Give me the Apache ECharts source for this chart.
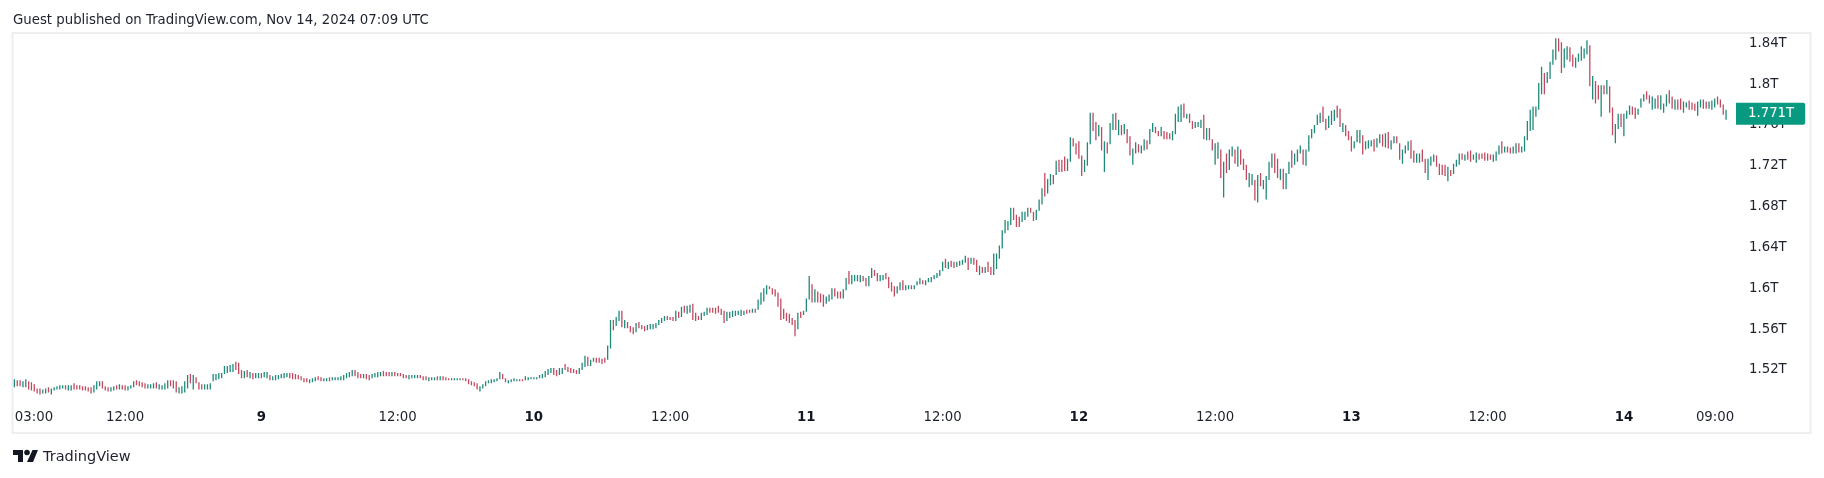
<!DOCTYPE html>
<html>
<head>
    <meta charset="utf-8">
    <title>TradingView chart</title>
    <style>
        html, body { margin: 0; padding: 0; background: #fff; }
        #main { width: 1824px; height: 478px; }
    </style>
</head>
<body>
    <div id="main"></div>
    <script src="https://cdn.jsdelivr.net/npm/echarts@6/dist/echarts.min.js"></script>
    <script type="text/javascript">

        // market cap in billions, 15 min bars, one row = 10 bars
        const highs = [
            1511,1510,1510,1509,1511,1509,1508,1506,1502,1502,
            1501,1502,1503,1502,1503,1504,1505,1505,1505,1505,
            1505,1507,1505,1505,1504,1504,1503,1503,1505,1509,
            1509,1509,1504,1503,1503,1504,1505,1506,1505,1505,
            1504,1505,1509,1510,1509,1508,1507,1506,1506,1507,
            1508,1506,1505,1507,1510,1510,1510,1509,1503,1504,
            1509,1515,1516,1515,1513,1508,1506,1506,1506,1507,
            1516,1516,1517,1517,1524,1524,1525,1526,1528,1527,
            1520,1519,1520,1518,1517,1517,1517,1517,1518,1518,
            1515,1514,1515,1515,1516,1517,1517,1517,1517,1516,
            1515,1514,1512,1512,1511,1512,1513,1514,1513,1512,
            1512,1513,1513,1513,1513,1514,1515,1517,1518,1520,
            1520,1518,1516,1516,1516,1515,1516,1517,1518,1518,
            1519,1518,1518,1518,1518,1517,1517,1516,1515,1515,
            1515,1515,1515,1515,1514,1514,1513,1513,1513,1514,
            1514,1514,1513,1512,1512,1512,1512,1512,1512,1512,
            1511,1509,1508,1507,1504,1506,1509,1510,1511,1511,
            1512,1518,1516,1512,1510,1511,1512,1511,1511,1511,
            1514,1513,1513,1513,1513,1515,1516,1519,1521,1522,
            1522,1520,1522,1522,1526,1523,1522,1521,1520,1522,
            1527,1534,1533,1530,1532,1532,1532,1531,1532,1544,
            1569,1569,1572,1578,1578,1569,1567,1563,1562,1566,
            1567,1564,1563,1564,1565,1565,1566,1569,1571,1573,
            1573,1572,1572,1578,1577,1582,1583,1583,1584,1585,
            1576,1573,1576,1577,1581,1581,1581,1581,1583,1580,
            1578,1577,1577,1578,1578,1578,1579,1578,1579,1579,
            1580,1580,1589,1596,1600,1603,1602,1600,1599,1596,
            1590,1580,1576,1575,1571,1569,1576,1577,1578,1590,
            1612,1604,1599,1597,1595,1594,1592,1594,1600,1600,
            1597,1597,1599,1610,1617,1613,1613,1613,1613,1612,
            1610,1612,1620,1618,1615,1613,1613,1615,1611,1606,
            1602,1602,1606,1608,1603,1603,1603,1603,1607,1610,
            1608,1608,1610,1611,1613,1615,1618,1626,1629,1626,
            1627,1626,1626,1627,1628,1632,1630,1630,1630,1628,
            1622,1621,1621,1626,1621,1634,1634,1642,1657,1667,
            1666,1679,1679,1672,1670,1675,1675,1679,1679,1675,
            1677,1687,1698,1713,1707,1712,1711,1725,1726,1726,
            1729,1727,1748,1747,1742,1744,1730,1726,1743,1772,
            1772,1763,1760,1758,1744,1743,1762,1771,1772,1765,
            1760,1761,1756,1749,1737,1743,1741,1740,1746,1745,
            1756,1762,1758,1754,1758,1754,1753,1752,1754,1771,
            1778,1780,1781,1771,1771,1764,1763,1763,1765,1770,
            1757,1757,1746,1742,1743,1736,1724,1732,1736,1739,
            1736,1739,1736,1727,1721,1713,1712,1706,1711,1713,
            1706,1710,1724,1732,1732,1727,1717,1717,1713,1724,
            1735,1732,1736,1740,1736,1736,1750,1756,1760,1770,
            1772,1778,1766,1769,1774,1775,1779,1776,1762,1760,
            1754,1749,1744,1755,1755,1750,1744,1745,1745,1746,
            1747,1751,1751,1752,1753,1745,1749,1749,1742,1736,
            1740,1744,1745,1735,1732,1732,1736,1727,1727,1729,
            1731,1730,1722,1721,1721,1719,1716,1722,1726,1732,
            1732,1731,1734,1735,1731,1733,1732,1732,1733,1732,
            1731,1731,1734,1740,1744,1739,1739,1738,1739,1742,
            1742,1739,1749,1764,1775,1778,1778,1801,1817,1811,
            1812,1822,1834,1845,1845,1841,1835,1837,1836,1829,
            1826,1830,1837,1835,1843,1838,1808,1803,1799,1799,
            1799,1804,1798,1777,1761,1771,1771,1771,1774,1779,
            1778,1777,1776,1786,1790,1793,1789,1788,1786,1789,
            1789,1781,1790,1794,1788,1785,1785,1786,1783,1782,
            1784,1782,1781,1783,1785,1785,1783,1783,1784,1786,
            1788,1785,1780,1775
        ];
        const lows = [
            1503,1504,1504,1503,1503,1501,1500,1499,1497,1496,
            1497,1497,1498,1496,1500,1501,1501,1502,1501,1500,
            1500,1501,1501,1501,1500,1500,1499,1497,1498,1501,
            1504,1502,1500,1499,1499,1500,1501,1501,1501,1500,
            1500,1502,1503,1505,1504,1503,1502,1502,1502,1502,
            1502,1501,1501,1501,1502,1504,1502,1498,1497,1497,
            1498,1502,1507,1501,1507,1501,1501,1501,1501,1501,
            1509,1510,1511,1512,1516,1517,1518,1518,1520,1516,
            1512,1512,1513,1512,1511,1512,1512,1512,1513,1512,
            1510,1510,1510,1511,1512,1512,1513,1512,1511,1511,
            1511,1510,1508,1508,1507,1508,1509,1510,1509,1509,
            1509,1509,1510,1510,1510,1510,1510,1512,1513,1514,
            1514,1512,1512,1512,1511,1510,1512,1513,1513,1514,
            1514,1514,1514,1514,1514,1514,1514,1512,1512,1511,
            1512,1512,1512,1512,1510,1510,1509,1510,1510,1510,
            1510,1510,1510,1510,1510,1510,1510,1510,1510,1509,
            1506,1505,1504,1501,1499,1502,1504,1507,1507,1508,
            1509,1511,1511,1508,1507,1508,1509,1509,1509,1509,
            1510,1510,1511,1511,1511,1512,1512,1513,1515,1517,
            1515,1514,1515,1516,1520,1518,1517,1517,1516,1516,
            1520,1523,1524,1524,1528,1527,1527,1526,1527,1530,
            1541,1559,1563,1568,1562,1561,1561,1557,1555,1557,
            1561,1560,1558,1559,1560,1560,1561,1564,1566,1568,
            1569,1569,1568,1568,1571,1572,1576,1575,1576,1569,
            1568,1569,1569,1573,1574,1576,1576,1575,1576,1574,
            1566,1568,1571,1572,1573,1574,1573,1574,1575,1576,
            1576,1576,1579,1584,1587,1594,1599,1594,1592,1582,
            1569,1570,1568,1566,1564,1553,1560,1571,1574,1577,
            1589,1586,1586,1586,1586,1582,1585,1587,1589,1592,
            1590,1590,1590,1598,1604,1604,1607,1607,1606,1607,
            1602,1602,1610,1612,1607,1607,1608,1609,1600,1597,
            1592,1595,1598,1598,1598,1599,1599,1599,1603,1604,
            1604,1603,1606,1606,1609,1610,1612,1617,1620,1619,
            1621,1620,1621,1622,1623,1625,1618,1624,1623,1616,
            1613,1615,1615,1616,1613,1613,1619,1629,1639,1654,
            1657,1662,1667,1660,1660,1665,1667,1670,1674,1666,
            1667,1676,1682,1690,1693,1701,1702,1711,1714,1714,
            1715,1715,1724,1739,1731,1727,1710,1714,1720,1741,
            1754,1745,1749,1735,1714,1732,1741,1755,1755,1750,
            1750,1751,1742,1730,1721,1732,1733,1732,1735,1736,
            1741,1753,1752,1749,1749,1746,1746,1746,1745,1751,
            1763,1763,1767,1766,1762,1756,1757,1758,1757,1746,
            1745,1745,1735,1721,1727,1708,1689,1713,1716,1729,
            1722,1719,1721,1716,1706,1699,1701,1686,1684,1700,
            1697,1687,1706,1718,1713,1708,1706,1697,1697,1712,
            1718,1721,1724,1732,1721,1720,1734,1747,1752,1760,
            1762,1763,1755,1757,1760,1764,1767,1758,1753,1749,
            1745,1734,1737,1743,1742,1731,1736,1737,1739,1734,
            1738,1742,1739,1738,1737,1736,1742,1742,1726,1722,
            1732,1735,1727,1723,1723,1723,1724,1713,1706,1720,
            1724,1719,1711,1711,1710,1705,1710,1712,1719,1721,
            1726,1725,1726,1724,1726,1723,1726,1727,1725,1725,
            1726,1724,1725,1731,1732,1733,1733,1732,1732,1732,
            1733,1733,1734,1745,1754,1755,1768,1775,1790,1790,
            1801,1805,1819,1824,1832,1811,1816,1824,1822,1817,
            1816,1822,1823,1825,1829,1798,1785,1781,1785,1768,
            1790,1790,1772,1750,1742,1756,1758,1749,1766,1770,
            1770,1766,1770,1777,1783,1785,1781,1775,1776,1776,
            1775,1772,1778,1781,1776,1775,1775,1775,1772,1777,
            1775,1775,1774,1769,1777,1776,1776,1776,1775,1777,
            1780,1777,1770,1765
        ];
        // G = closed up, R = closed down
        const moves = (
            'GRRGGRRRRR' + 'GGRGGGGGRG' + 'GRRRRRRRGG' + 'GRRRGGRGRR' + 'GGGRRRRGGG' +
            'RGGGGRRRGG' + 'GGRGRRRGGG' + 'GGGGGGGGRR' + 'RGRGRGGRGG' + 'RGGGGGGRRR' +
            'RRRRGGGRRG' + 'GRGGGGGGGG' + 'RRRGRRGGGG' + 'RRRGRRRRRG' + 'GGGRRRGGGR' +
            'GRRRGGGGRR' + 'RRRRGGGGGG' + 'GGRRGGGGRR' + 'GGGGGGGGGG' + 'RRGGRRRRRG' +
            'GGRGGRRRRG' + 'GRGGRGRRRG' + 'RRRGGGGGGG' + 'RRRGRGRGGR' + 'RRGGGRRRRR' +
            'RGGGGGGGRR' + 'GRGGGGRRRR' + 'RRRRRRGRGG' + 'GRGRRRGGGR' + 'RRGGRGGGGR' +
            'RGGRRGGRRR' + 'RGGRGGRGGG' + 'RGGGGGGGRG' + 'RRGGGGRGRR' + 'GRGRRGGGGG' +
            'GGRRRGGGRR' + 'GGGRGGRGRR' + 'RGGRRRRGGG' + 'RRGRGRGGRG' + 'RGRRGGRGGR' +
            'GGRRGRRRGG' + 'GGRGRRGGGR' + 'GRRGGRGRGG' + 'RGRRRGGRGR' + 'GGGGRRGRGG' +
            'RGGGRGGGGG' + 'GRRGGGRRGR' + 'RRGGGRGGGR' + 'GGRGRGGRRG' + 'GGRRGGRRGG' +
            'GRRRRGRGGG' + 'RGRRGGRRRR' + 'RGGGRGRRGG' + 'RGGGGGGGGR' + 'GGGGRRGGRR' +
            'GGGGGRGRRG' + 'RGRRGGRGGG' + 'RRGGGRRGGR' + 'GGGRRGRRGG' + 'RRRGGRRGGG' +
            'RRRG'
        ).split('');

        const LAST_PRICE = 1771;
        const UP_COLOR = '#1f8a7a';
        const DOWN_COLOR = '#c2495f';
        const TEXT_COLOR = '#1e222d';
        const FONT = '"DejaVu Sans", sans-serif';
        const FONT_SIZE = 13.3;

        const tickTimes = [
            '2024-11-08 03:00', '2024-11-08 12:00', '2024-11-09 00:00', '2024-11-09 12:00',
            '2024-11-10 00:00', '2024-11-10 12:00', '2024-11-11 00:00', '2024-11-11 12:00',
            '2024-11-12 00:00', '2024-11-12 12:00', '2024-11-13 00:00', '2024-11-13 12:00',
            '2024-11-14 00:00', '2024-11-14 09:00'
        ];
        const tickLabels = ['03:00', '12:00', '9', '12:00', '10', '12:00', '11', '12:00', '12', '12:00', '13', '12:00', '14', '09:00'];

        function pad(n) {
            return (n < 10 ? '0' : '') + n;
        }

        // bars plus 3 empty slots on the right side
        function buildCategories() {
            let result = [];
            let start = Date.UTC(2024, 10, 8, 2, 15);
            for (let i = 0; i < highs.length + 3; i++) {
                let d = new Date(start + i * 15 * 60000);
                result.push(d.getUTCFullYear() + '-' + pad(d.getUTCMonth() + 1) + '-' + pad(d.getUTCDate()) + ' ' + pad(d.getUTCHours()) + ':' + pad(d.getUTCMinutes()));
            }
            return result;
        }

        function buildBars() {
            let bars = [];
            for (let i = 0; i < highs.length; i++) {
                let up = moves[i] === 'G';
                bars.push([up ? lows[i] : highs[i], up ? highs[i] : lows[i], lows[i], highs[i]]);
            }
            return bars;
        }

        function formatTick(value) {
            let pos = tickTimes.indexOf(value);
            let label = tickLabels[pos];
            if (pos === 0) {
                return '{first|' + label + '}';
            }
            if (pos === tickLabels.length - 1) {
                return '{last|' + label + '}';
            }
            return label.length < 3 ? '{day|' + label + '}' : label;
        }

        let myChart = echarts.init(document.getElementById('main'));

        let option = {
            animation: false,
            textStyle: { fontFamily: FONT },
            grid: { left: 13, top: 2.45, width: 1723, height: 408.4 },
            xAxis: {
                type: 'category',
                data: buildCategories(),
                axisLine: { show: false },
                axisTick: { show: false },
                splitLine: { show: false },
                axisLabel: {
                    margin: 0,
                    color: TEXT_COLOR,
                    fontFamily: FONT,
                    fontSize: FONT_SIZE,
                    interval: function (index, value) {
                        return tickTimes.includes(value);
                    },
                    formatter: formatTick,
                    rich: {
                        day: { fontWeight: 'bold', fontSize: FONT_SIZE, color: '#131722', fontFamily: FONT },
                        first: { padding: [0, 0, 0, 22], fontSize: FONT_SIZE, color: TEXT_COLOR, fontFamily: FONT },
                        last: { padding: [0, 22, 0, 0], fontSize: FONT_SIZE, color: TEXT_COLOR, fontFamily: FONT }
                    }
                }
            },
            yAxis: {
                type: 'value',
                position: 'right',
                min: 1480,
                max: 1880,
                interval: 40,
                axisLine: { show: false },
                axisTick: { show: false },
                splitLine: { show: false },
                axisLabel: {
                    margin: 13,
                    color: TEXT_COLOR,
                    fontFamily: FONT,
                    fontSize: FONT_SIZE,
                    showMinLabel: false,
                    showMaxLabel: false,
                    formatter: function (v) {
                        return v / 1000 + 'T';
                    }
                }
            },
            series: [{
                type: 'candlestick',
                // large mode strokes each thin bar as one vertical line
                large: true,
                largeThreshold: 1,
                progressive: 0,
                barWidth: 1,
                data: buildBars(),
                itemStyle: {
                    color: UP_COLOR,
                    color0: DOWN_COLOR,
                    borderColor: UP_COLOR,
                    borderColor0: DOWN_COLOR,
                    borderWidth: 1.3
                },
                markLine: {
                    silent: true,
                    symbol: 'none',
                    animation: false,
                    lineStyle: { color: 'transparent', width: 0 },
                    data: [{ yAxis: LAST_PRICE }],
                    label: {
                        position: 'end',
                        distance: 0,
                        color: '#fff',
                        fontFamily: FONT,
                        fontSize: FONT_SIZE,
                        backgroundColor: '#089981',
                        borderRadius: [0, 2, 2, 0],
                        padding: [5, 11, 4, 12],
                        formatter: function () {
                            return LAST_PRICE / 1000 + 'T';
                        }
                    }
                }
            }],
            graphic: [
                {
                    type: 'rect',
                    silent: true,
                    z: -1,
                    shape: { x: 12.5, y: 33, width: 1798, height: 400 },
                    style: { fill: 'none', stroke: '#eeeeee', lineWidth: 2 }
                },
                {
                    type: 'text',
                    x: 13,
                    y: 20.5,
                    style: {
                        text: 'Guest published on TradingView.com, Nov 14, 2024 07:09 UTC',
                        fill: TEXT_COLOR,
                        font: FONT_SIZE + 'px ' + FONT,
                        textVerticalAlign: 'middle'
                    }
                },
                // logo
                {
                    type: 'polygon',
                    shape: { points: [[13, 450], [23, 450], [23, 462], [18, 462], [18, 455], [13, 455]] },
                    style: { fill: '#131722' }
                },
                {
                    type: 'circle',
                    shape: { cx: 27, cy: 452.5, r: 2.8 },
                    style: { fill: '#131722' }
                },
                {
                    type: 'polygon',
                    shape: { points: [[27, 462], [32.5, 450], [38, 450], [33, 462]] },
                    style: { fill: '#131722' }
                },
                {
                    type: 'text',
                    x: 43,
                    y: 457,
                    style: {
                        text: 'TradingView',
                        fill: TEXT_COLOR,
                        font: '14.5px ' + FONT,
                        textVerticalAlign: 'middle'
                    }
                }
            ]
        };

        myChart.setOption(option);

    </script>
</body>
</html>
